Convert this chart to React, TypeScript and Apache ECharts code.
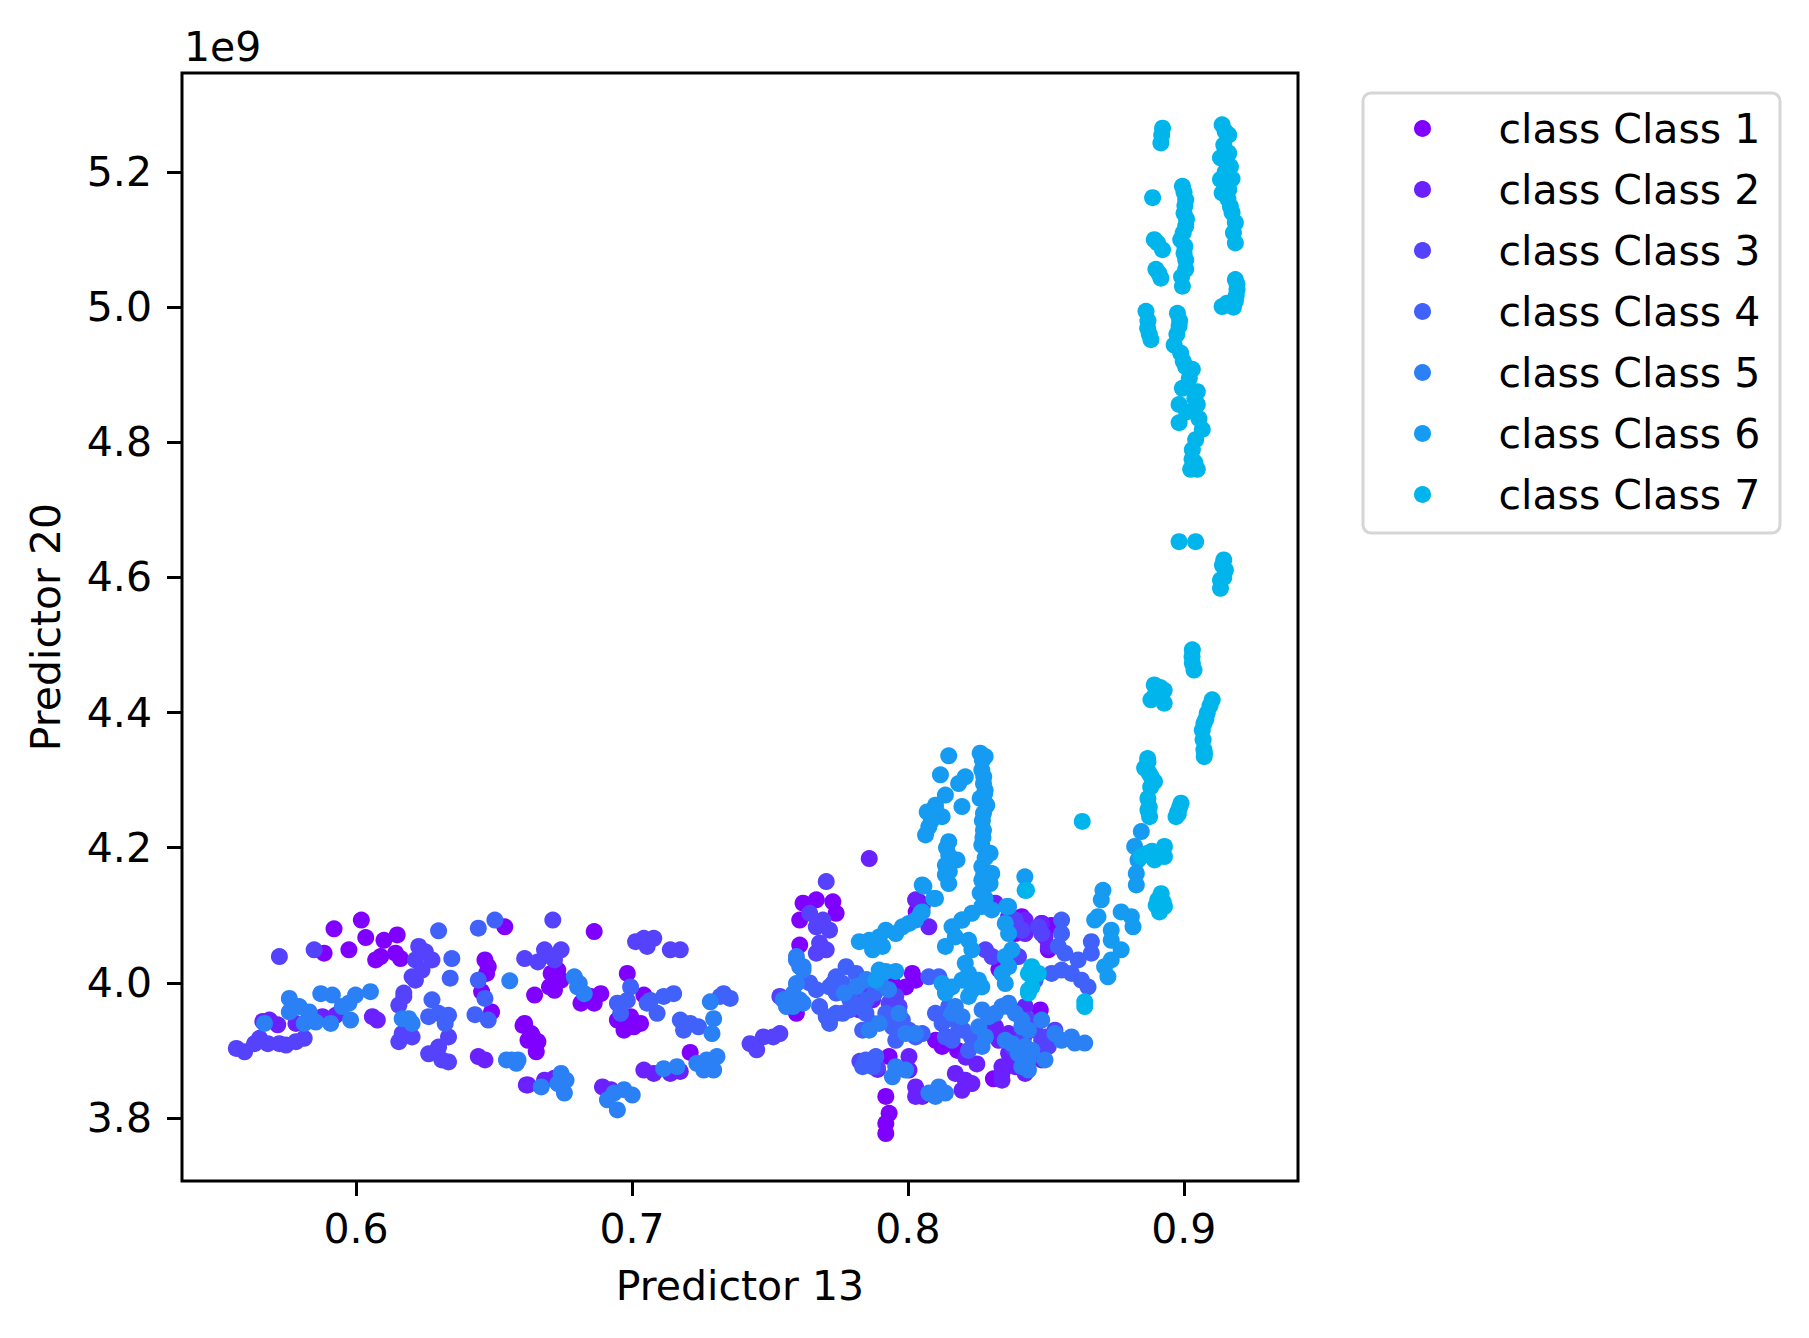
import { useEffect, useRef } from 'react';
import * as echarts from 'echarts';

const FONT = 'DejaVu Sans';

const CLASS_NAMES = [
  'class Class 1',
  'class Class 2',
  'class Class 3',
  'class Class 4',
  'class Class 5',
  'class Class 6',
  'class Class 7',
];

// rainbow colormap samples
const CLASS_COLORS = ['#8000ff', '#6a21fe', '#5542fd', '#4062fa', '#2b80f6', '#159bf1', '#00b4ec'];

const X_TICKS = [0.6, 0.7, 0.8, 0.9];
const Y_TICKS = [3.8, 4.0, 4.2, 4.4, 4.6, 4.8, 5.0, 5.2];

// Predictor 13 vs Predictor 20 (units of 1e9)
const class1 = [
  [0.5884, 4.044], [0.592, 4.08], [0.5974, 4.049], [0.6019, 4.093], [0.6035, 4.067], [0.6101, 4.063],
  [0.6149, 4.071], [0.6143, 4.044], [0.6161, 4.036], [0.6071, 4.034], [0.6089, 4.039],
  [0.6539, 4.083], [0.6467, 4.034], [0.6479, 4.024], [0.6473, 4.014], [0.6455, 3.987], [0.6491, 3.957],
  [0.6605, 3.937], [0.6623, 3.915],
  [0.6863, 4.076], [0.6707, 4.014], [0.6731, 4.019], [0.6701, 3.994], [0.6719, 3.989], [0.6647, 3.982],
  [0.6743, 4.004], [0.6815, 3.97], [0.6863, 3.97], [0.6887, 3.984], [0.6851, 3.98],
  [0.6611, 3.94], [0.6635, 3.925], [0.6659, 3.913], [0.6653, 3.898], [0.6641, 3.92],
  [0.6983, 4.014], [0.6947, 3.945], [0.6971, 3.93], [0.7007, 3.935], [0.7031, 3.94], [0.6995, 3.95],
  [0.7043, 3.982], [0.7211, 3.897],
  [0.762, 4.118], [0.7668, 4.123], [0.7728, 4.12], [0.7608, 4.093], [0.774, 4.103], [0.7608, 4.056],
  [0.7596, 3.955],
  [0.8016, 4.014], [0.8028, 4.004], [0.7992, 3.994], [0.7944, 3.999],
  [0.7932, 3.891], [0.792, 3.832], [0.7932, 3.807], [0.792, 3.792], [0.792, 3.777],
  [0.8124, 3.906], [0.81, 3.915],
  [0.8485, 4.088], [0.8509, 4.049], [0.8413, 4.098], [0.8389, 4.073],
  [0.804, 4.12], [0.803, 4.105], [0.814, 3.92], [0.818, 3.9], [0.831, 3.858], [0.833, 4.02],
  [0.841, 4.09], [0.848, 3.96], [0.852, 4.085], [0.829, 3.94],
];

const class2 = [
  [0.5662, 3.943], [0.5716, 3.938], [0.5686, 3.945], [0.5782, 3.94], [0.583, 3.95], [0.5878, 3.95],
  [0.5926, 3.952], [0.6059, 3.95], [0.6077, 3.945], [0.6443, 3.891], [0.6467, 3.886], [0.6617, 3.849],
  [0.6623, 3.849], [0.6683, 3.856], [0.6719, 3.859], [0.6893, 3.846], [0.6923, 3.842],
  [0.7043, 3.871], [0.7079, 3.866], [0.7139, 3.866], [0.7175, 3.869],
  [0.786, 4.184],
  [0.8028, 4.123], [0.8052, 4.113], [0.8076, 4.083],
  [0.7836, 3.989], [0.7872, 3.975], [0.7824, 3.96],
  [0.8004, 3.891], [0.8004, 3.871], [0.8028, 3.846], [0.8052, 3.832], [0.8028, 3.832],
  [0.8172, 3.866], [0.8196, 3.841], [0.8208, 3.856], [0.8232, 3.851],
  [0.8317, 4.118], [0.8365, 4.098], [0.8425, 4.093], [0.8485, 4.088], [0.8509, 4.054], [0.8497, 4.068],
  [0.8425, 4.073], [0.8389, 4.078],
  [0.8317, 3.935], [0.8329, 3.915], [0.8365, 3.896], [0.8341, 3.876], [0.8341, 3.856], [0.8389, 3.876],
  [0.8461, 3.891], [0.8485, 3.886], [0.8425, 3.866],
  [0.8341, 3.866], [0.8425, 3.965], [0.8473, 3.891], [0.8365, 3.925], [0.786, 3.882], [0.789, 3.872],
  [0.821, 3.89], [0.825, 3.88],
];

const class3 = [
  [0.5566, 3.903], [0.5596, 3.898], [0.5632, 3.91], [0.565, 3.918], [0.568, 3.91], [0.5722, 3.91],
  [0.5746, 3.908], [0.5782, 3.913], [0.5812, 3.918],
  [0.5722, 4.039], [0.5848, 4.049],
  [0.6227, 4.054], [0.6251, 4.046], [0.6215, 4.034], [0.6239, 4.019], [0.6215, 4.004], [0.6203, 4.009],
  [0.6173, 3.985], [0.6155, 3.967], [0.6173, 3.98], [0.6275, 4.034],
  [0.6155, 3.913], [0.6203, 3.92], [0.6167, 3.925],
  [0.6299, 3.905], [0.6263, 3.895], [0.6311, 3.886], [0.6335, 3.883], [0.6335, 3.92],
  [0.6611, 4.036], [0.6659, 4.031], [0.6683, 4.049], [0.6719, 4.034], [0.6743, 4.049], [0.6707, 4.039],
  [0.6713, 4.093],
  [0.7013, 4.061], [0.7043, 4.066], [0.7079, 4.066], [0.7055, 4.054], [0.7139, 4.049], [0.7175, 4.049],
  [0.7428, 3.91], [0.7452, 3.901], [0.7476, 3.92], [0.7512, 3.92], [0.7536, 3.925],
  [0.7704, 4.15],
  [0.7644, 4.103], [0.7668, 4.083], [0.7692, 4.093], [0.7716, 4.078], [0.768, 4.059], [0.7704, 4.049],
  [0.7668, 4.044],
  [0.7536, 3.98], [0.7956, 3.98], [0.7968, 3.965], [0.7932, 3.97],
  [0.8305, 4.039], [0.8281, 4.049], [0.8401, 4.039],
  [0.8485, 4.073], [0.8473, 4.083], [0.8413, 4.078], [0.8389, 4.093],
  [0.8485, 3.915], [0.8509, 3.906], [0.8533, 3.93], [0.8437, 3.945], [0.7826, 3.884], [0.7889, 3.875],
  [0.838, 3.905], [0.842, 3.92], [0.846, 3.93], [0.85, 3.92],
];

const class4 = [
  [0.6299, 4.077], [0.6347, 4.036], [0.6341, 4.007], [0.6275, 3.975], [0.6263, 3.95], [0.6299, 3.955],
  [0.6335, 3.952], [0.6323, 3.94],
  [0.6443, 4.081], [0.6503, 4.093], [0.6443, 4.004], [0.6467, 3.977], [0.6431, 3.953], [0.6479, 3.945],
  [0.6995, 3.994], [0.6947, 3.97], [0.6959, 3.955], [0.6983, 3.974],
  [0.7067, 3.974], [0.7115, 3.98], [0.7151, 3.984], [0.7091, 3.955], [0.7055, 3.97],
  [0.7175, 3.945], [0.7211, 3.94], [0.7241, 3.935], [0.7187, 3.93],
  [0.732, 3.98], [0.7356, 3.977], [0.7332, 3.984],
  [0.7644, 4.0], [0.7668, 3.99], [0.774, 4.009], [0.7716, 3.994],
  [0.768, 3.965], [0.7704, 3.95], [0.774, 3.955], [0.7716, 3.94],
  [0.7764, 3.955], [0.7788, 3.96], [0.774, 3.985], [0.7776, 4.024], [0.7812, 4.014], [0.7728, 3.999],
  [0.7764, 3.999],
  [0.7848, 3.955], [0.7872, 3.94], [0.7836, 3.93], [0.792, 3.955], [0.7944, 3.935], [0.7956, 3.915],
  [0.798, 3.945], [0.8004, 3.93], [0.8028, 3.92], [0.8052, 3.925],
  [0.7848, 3.886], [0.7884, 3.891], [0.7836, 3.876], [0.7872, 3.876],
  [0.8076, 4.009], [0.8112, 4.009], [0.81, 3.955], [0.8124, 3.94], [0.8148, 3.965], [0.8172, 3.945],
  [0.8184, 3.93], [0.816, 3.915], [0.8136, 3.92],
  [0.8665, 4.061], [0.8665, 4.044], [0.8629, 4.004], [0.8653, 3.994], [0.8557, 4.093], [0.8557, 4.073],
  [0.8545, 4.054], [0.8569, 4.044], [0.8617, 4.034], [0.8593, 4.014], [0.8557, 4.019], [0.8521, 4.014],
  [0.8461, 4.004],
  [0.779, 3.975], [0.78, 3.99], [0.783, 4.0], [0.781, 3.965], [0.785, 3.975], [0.788, 3.985],
  [0.82, 3.93], [0.823, 3.92], [0.825, 3.91], [0.822, 3.9],
];

const class5 = [
  [0.5668, 3.94], [0.5758, 3.977], [0.5758, 3.957], [0.5794, 3.965], [0.583, 3.957], [0.5854, 3.942],
  [0.5908, 3.94], [0.5812, 3.94], [0.5872, 3.984], [0.5914, 3.982], [0.595, 3.965], [0.5974, 3.97],
  [0.5998, 3.982], [0.6052, 3.987], [0.598, 3.945],
  [0.6167, 3.947], [0.6203, 3.94], [0.6191, 3.947],
  [0.6557, 4.003], [0.6563, 3.886], [0.6581, 3.881], [0.6545, 3.886], [0.6587, 3.886],
  [0.6671, 3.846], [0.6743, 3.866], [0.6761, 3.856], [0.6755, 3.837], [0.6731, 3.851],
  [0.6791, 4.009], [0.6803, 3.994], [0.6827, 3.984], [0.6809, 3.999],
  [0.6935, 3.837], [0.6971, 3.842], [0.7001, 3.834], [0.6947, 3.812], [0.6911, 3.827],
  [0.7115, 3.873], [0.7163, 3.876], [0.7235, 3.881], [0.7271, 3.886], [0.7308, 3.891], [0.7296, 3.871],
  [0.726, 3.871],
  [0.7284, 3.972], [0.7296, 3.947], [0.729, 3.925],
  [0.7596, 4.034], [0.7608, 4.024], [0.762, 4.019],
  [0.7548, 3.975], [0.7584, 3.984], [0.7608, 3.975], [0.7584, 3.965], [0.756, 3.965],
  [0.7596, 4.039], [0.762, 4.024], [0.7596, 3.999], [0.762, 3.97],
  [0.8172, 3.965], [0.8196, 3.95], [0.816, 3.955], [0.8269, 3.96], [0.8293, 3.95], [0.8317, 3.955],
  [0.8341, 3.965], [0.8365, 3.97], [0.8389, 3.955], [0.8257, 3.935], [0.8281, 3.92], [0.8269, 3.906],
  [0.8353, 3.915], [0.8377, 3.91], [0.8413, 3.935], [0.8437, 3.93], [0.8425, 3.906], [0.8413, 3.876],
  [0.8437, 3.871],
  [0.7956, 3.876], [0.7944, 3.861], [0.7992, 3.871],
  [0.8076, 3.837], [0.8112, 3.846], [0.8136, 3.837], [0.81, 3.832],
  [0.786, 3.93], [0.7896, 3.94], [0.7992, 3.925], [0.8028, 3.925], [0.7968, 3.955],
  [0.8365, 3.965], [0.8413, 3.945], [0.8485, 3.945], [0.8533, 3.925], [0.8557, 3.915], [0.8605, 3.911],
  [0.8641, 3.911], [0.8593, 3.92], [0.8437, 3.886], [0.8497, 3.886],
  [0.777, 3.985], [0.7815, 3.995], [0.785, 4.005], [0.79, 4.0], [0.793, 3.99],
  [0.845, 3.9], [0.84, 3.895],
];

const class6 = [
  [0.7824, 4.061], [0.786, 4.063], [0.7896, 4.068], [0.792, 4.078], [0.7956, 4.073], [0.798, 4.083],
  [0.8004, 4.088], [0.8028, 4.093], [0.8052, 4.105], [0.8052, 4.145], [0.81, 4.125], [0.7872, 4.049],
  [0.7908, 4.054],
  [0.7896, 4.019], [0.792, 4.017], [0.7956, 4.017], [0.7884, 4.004],
  [0.8196, 4.093], [0.816, 4.083], [0.8136, 4.054], [0.8172, 4.068],
  [0.822, 4.063], [0.8232, 4.049], [0.8208, 4.029], [0.822, 4.014], [0.8196, 4.004], [0.8232, 3.989],
  [0.822, 3.98], [0.8256, 4.004], [0.8268, 3.994],
  [0.8124, 3.999], [0.8136, 3.985], [0.816, 3.994],
  [0.8424, 4.157], [0.8365, 4.113], [0.8353, 4.088], [0.8365, 4.073], [0.8377, 4.049], [0.8353, 4.039],
  [0.8365, 4.024], [0.8341, 4.014], [0.8353, 3.999],
  [0.8846, 4.224], [0.8822, 4.202], [0.8834, 4.182], [0.8828, 4.162], [0.8828, 4.145],
  [0.8707, 4.137], [0.8701, 4.123], [0.8689, 4.098], [0.8677, 4.093], [0.8773, 4.105], [0.881, 4.098],
  [0.8816, 4.083], [0.8737, 4.078], [0.8737, 4.063], [0.8773, 4.049], [0.8737, 4.034], [0.8713, 4.024],
  [0.8725, 4.009],
  [0.8425, 4.137],
  [0.8148, 4.336], [0.8262, 4.34], [0.828, 4.335], [0.8268, 4.315], [0.8118, 4.308], [0.8208, 4.305],
  [0.8184, 4.295], [0.8274, 4.295], [0.828, 4.285], [0.8136, 4.278], [0.8262, 4.273], [0.8286, 4.263],
  [0.8196, 4.261], [0.81, 4.263], [0.807, 4.253], [0.8124, 4.246], [0.8274, 4.251], [0.8076, 4.231],
  [0.8064, 4.219], [0.8274, 4.226], [0.8148, 4.209], [0.8268, 4.204], [0.8298, 4.192], [0.8148, 4.189],
  [0.8178, 4.182], [0.8136, 4.174], [0.8268, 4.172], [0.8304, 4.162], [0.8136, 4.16], [0.8148, 4.147],
  [0.8058, 4.143], [0.8268, 4.152], [0.8298, 4.147], [0.8094, 4.125], [0.8262, 4.133], [0.8268, 4.113],
  [0.8304, 4.108], [0.8358, 4.113], [0.8046, 4.103], [0.8196, 4.093], [0.8232, 4.103],
  [0.827, 4.33], [0.8275, 4.305], [0.8278, 4.28], [0.827, 4.24], [0.8272, 4.215], [0.828, 4.185],
  [0.8275, 4.16], [0.828, 4.125], [0.814, 4.2], [0.815, 4.165], [0.81, 4.257], [0.8085, 4.24],
];

const class7 = [
  [0.843, 4.137], [0.8449, 4.019], [0.8437, 3.989], [0.8473, 4.014],
  [0.8449, 4.024], [0.8437, 4.014], [0.8449, 3.994], [0.8437, 3.985],
  [0.8641, 3.972], [0.8641, 3.965], [0.8632, 4.239],
  [0.887, 4.327], [0.8858, 4.318], [0.8882, 4.305], [0.8894, 4.298], [0.887, 4.273], [0.887, 4.256],
  [0.8876, 4.246], [0.899, 4.266], [0.8978, 4.253], [0.8972, 4.246],
  [0.887, 4.192], [0.8894, 4.182], [0.893, 4.202], [0.893, 4.187], [0.8846, 4.187],
  [0.8918, 4.132], [0.8906, 4.123], [0.893, 4.113], [0.8912, 4.105],
  [0.8885, 4.195], [0.891, 4.19], [0.892, 4.195], [0.8915, 4.125], [0.89, 4.115], [0.8925, 4.12],
  [0.8983, 4.653], [0.9043, 4.653], [0.9145, 4.626], [0.9151, 4.611], [0.9133, 4.596], [0.9133, 4.584],
  [0.914, 4.618], [0.9145, 4.6],
  [0.9031, 4.493], [0.9031, 4.473], [0.9037, 4.463], [0.903, 4.483],
  [0.8893, 4.441], [0.8929, 4.433], [0.8881, 4.419], [0.8929, 4.414], [0.89, 4.43], [0.8915, 4.437],
  [0.8895, 4.425],
  [0.9103, 4.419], [0.9085, 4.399], [0.9073, 4.384], [0.9067, 4.374], [0.9073, 4.345], [0.9095, 4.41],
  [0.908, 4.39], [0.907, 4.36], [0.9075, 4.34],
  [0.8869, 4.332], [0.9074, 4.335], [0.8875, 4.31], [0.888, 4.29], [0.8875, 4.26], [0.8985, 4.26],
  [0.898, 4.25],
  [0.8923, 5.265], [0.8917, 5.243], [0.8887, 5.162], [0.8893, 5.1], [0.8923, 5.085], [0.8899, 5.056],
  [0.8917, 5.043], [0.8863, 4.994], [0.8869, 4.969], [0.8881, 4.952],
  [0.892, 5.255], [0.8905, 5.095], [0.891, 5.05], [0.887, 4.98], [0.8875, 4.96],
  [0.8995, 5.179], [0.9007, 5.159], [0.9001, 5.139], [0.9007, 5.12], [0.8989, 5.1], [0.9001, 5.08],
  [0.9007, 5.056], [0.8995, 5.031], [0.8977, 4.991], [0.8983, 4.972], [0.8965, 4.944], [0.8989, 4.932],
  [0.9007, 4.912], [0.9031, 4.908], [0.8995, 4.88], [0.9049, 4.875], [0.9049, 4.856], [0.8983, 4.856],
  [0.8983, 4.829], [0.9067, 4.819], [0.9043, 4.804], [0.9031, 4.789], [0.9025, 4.76], [0.9049, 4.76],
  [0.9001, 5.17], [0.9004, 5.15], [0.901, 5.13], [0.8998, 5.11], [0.9004, 5.09], [0.9007, 5.07],
  [0.8992, 5.045], [0.8985, 4.98], [0.8975, 4.96], [0.8998, 4.92], [0.902, 4.895], [0.904, 4.865],
  [0.901, 4.845], [0.9055, 4.835], [0.904, 4.77], [0.903, 4.775],
  [0.9139, 5.27], [0.9163, 5.255], [0.9133, 5.221], [0.9163, 5.228], [0.9169, 5.208], [0.9133, 5.189],
  [0.9163, 5.174], [0.9139, 5.169], [0.9169, 5.149], [0.9187, 5.125], [0.9187, 5.095], [0.9139, 5.001],
  [0.9187, 5.041], [0.9193, 5.026], [0.9187, 5.009], [0.9157, 5.006],
  [0.915, 5.26], [0.9145, 5.24], [0.9155, 5.215], [0.915, 5.2], [0.9175, 5.19], [0.916, 5.16],
  [0.9175, 5.14], [0.918, 5.11], [0.9165, 5.003], [0.918, 5.0], [0.919, 5.017], [0.9193, 5.034],
];

const CLASS_DATA = [class1, class2, class3, class4, class5, class6, class7];

export default function App() {
  const chartRef = useRef<HTMLDivElement>(null);

  useEffect(() => {
    if (!chartRef.current) return;
    const chart = echarts.init(chartRef.current, null, { renderer: 'svg' });

    const textBase = { fontFamily: FONT, fontSize: 41, color: '#000' };

    const option: any = {
      animation: false,
      backgroundColor: '#fff',
      grid: {
        left: 182,
        right: 511,
        top: 73,
        bottom: 157,
        containLabel: false,
        outerBoundsMode: 'none',
        show: true,
        borderColor: '#000',
        borderWidth: 3,
        backgroundColor: 'transparent',
      },
      xAxis: {
        type: 'value',
        min: 0.5369,
        max: 0.9414,
        splitLine: { show: false },
        axisLine: { show: false },
        axisTick: {
          show: true,
          customValues: X_TICKS,
          length: 15,
          lineStyle: { color: '#000', width: 3 },
        },
        axisLabel: {
          ...textBase,
          customValues: X_TICKS,
          margin: 27,
          formatter: (v: number) => v.toFixed(1),
        },
        name: 'Predictor 13',
        nameLocation: 'middle',
        nameGap: 84,
        nameTextStyle: textBase,
      },
      yAxis: {
        type: 'value',
        min: 3.7068,
        max: 5.3466,
        splitLine: { show: false },
        axisLine: { show: false },
        axisTick: {
          show: true,
          customValues: Y_TICKS,
          length: 15,
          lineStyle: { color: '#000', width: 3 },
        },
        axisLabel: {
          ...textBase,
          customValues: Y_TICKS,
          margin: 30,
          formatter: (v: number) => v.toFixed(1),
        },
        name: 'Predictor 20',
        nameLocation: 'middle',
        nameGap: 116,
        nameTextStyle: textBase,
      },
      legend: {
        orient: 'vertical',
        left: 1414,
        top: 108,
        padding: 0,
        itemWidth: 142,
        itemHeight: 17,
        itemGap: 20,
        icon: 'circle',
        selectedMode: false,
        z: 5,
        textStyle: { ...textBase, lineHeight: 41 },
        data: CLASS_NAMES,
      },
      graphic: [
        {
          type: 'rect',
          z: 1,
          shape: { x: 1363, y: 93, width: 417, height: 440, r: 8 },
          style: { fill: '#fff', stroke: '#d6d6d6', lineWidth: 3 },
        },
        {
          type: 'text',
          z: 1,
          x: 184,
          y: 47,
          style: {
            text: '1e9',
            font: `41px "${FONT}"`,
            fill: '#000',
            verticalAlign: 'middle',
            align: 'left',
          },
        },
      ],
      series: CLASS_DATA.map((pts, i) => ({
        type: 'scatter',
        name: CLASS_NAMES[i],
        data: pts,
        symbol: 'circle',
        symbolSize: 17,
        itemStyle: { color: CLASS_COLORS[i], opacity: 1 },
        emphasis: { disabled: true },
      })),
    };

    chart.setOption(option);
    return () => chart.dispose();
  }, []);

  return (
    <div
      ref={chartRef}
      style={{ position: 'absolute', left: 0, top: 0, width: 1809, height: 1338 }}
    />
  );
}
